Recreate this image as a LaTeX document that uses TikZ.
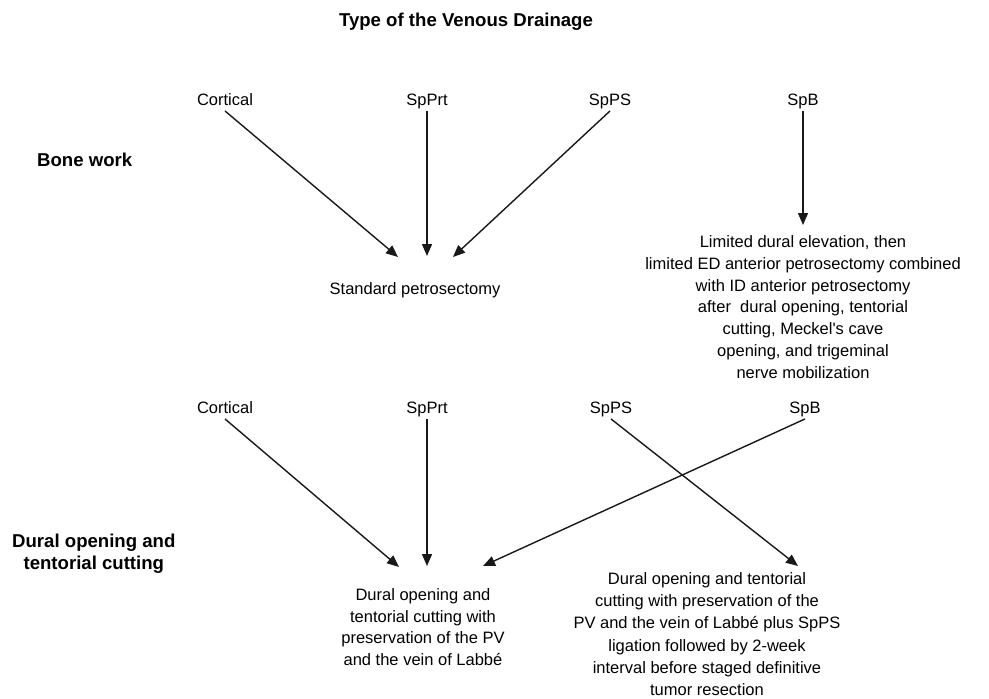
\documentclass[tikz,border=0pt]{standalone}
\usepackage{fontspec}
\setmainfont{Liberation Sans}
\usepackage{tikz}
\usetikzlibrary{arrows.meta}

\begin{document}
\begin{tikzpicture}[
    x=1pt, y=-1pt,
    lbl/.style={font=\fontsize{16.5}{21.7}\selectfont, text height=12pt, text depth=3.5pt, inner sep=2pt},
    txt/.style={font=\fontsize{16.5}{21.7}\selectfont, align=center, inner sep=0pt},
    head/.style={font=\fontsize{18.6}{22}\selectfont\bfseries, align=center, anchor=west, inner sep=0pt},
    arrow/.style={-{Triangle[length=12pt,width=10pt]}, line width=1.4pt, color=black!90}
]
    \useasboundingbox (0,0) rectangle (989,699);

    % Title
    \node[font=\fontsize{18.6}{22}\selectfont\bfseries, inner sep=0pt] (title) at (466,22) {Type of the Venous Drainage};

    % Row headers
    \node[head] (bone) at (37,160) {Bone work};
    \node[head] (dural) at (12,554) {Dural opening and\\tentorial cutting};

    % Top row - drainage types
    \node[lbl] (cort1) at (225,101) {Cortical};
    \node[lbl] (sppr1) at (427,101) {SpPrt};
    \node[lbl] (spps1) at (610,101) {SpPS};
    \node[lbl] (spb1) at (803,101) {SpB};

    % Top row - bone work results
    \node[txt] (std) at (415,290) {Standard petrosectomy};
    \node[txt] (lim) at (803,307) {Limited dural elevation, then\\limited ED anterior petrosectomy combined\\with ID anterior petrosectomy\\after\ \ dural opening, tentorial\\cutting, Meckel\textquotesingle s cave\\opening, and trigeminal\\nerve mobilization};

    % Bottom row - drainage types
    \node[lbl] (cort2) at (225,409) {Cortical};
    \node[lbl] (sppr2) at (427,409) {SpPrt};
    \node[lbl] (spps2) at (611,409) {SpPS};
    \node[lbl] (spb2) at (805,409) {SpB};

    % Bottom row - dural opening results
    \node[txt] (pres) at (423,627) {Dural opening and\\tentorial cutting with\\preservation of the PV\\and the vein of Labb\'e};
    \node[txt, font=\fontsize{16.5}{22.2}\selectfont] (stag) at (707,634) {Dural opening and tentorial\\cutting with preservation of the\\PV and the vein of Labb\'e plus SpPS\\ligation followed by 2-week\\interval before staged definitive\\tumor resection};

    % Arrow tips
    \coordinate (ta1) at (398,257);
    \coordinate (ta2) at (427,256);
    \coordinate (ta3) at (453,257);
    \coordinate (ta4) at (803,225);
    \coordinate (tb1) at (399,567);
    \coordinate (tb2) at (427,566);
    \coordinate (tb3) at (483,566);
    \coordinate (tb4) at (798,566);

    % Arrows
    \draw[arrow] (cort1.south) -- (ta1);
    \draw[arrow] (sppr1.south) -- (ta2);
    \draw[arrow] (spps1.south) -- (ta3);
    \draw[arrow] (spb1.south) -- (ta4);
    \draw[arrow] (cort2.south) -- (tb1);
    \draw[arrow] (sppr2.south) -- (tb2);
    \draw[arrow] (spb2.south) -- (tb3);
    \draw[arrow] (spps2.south) -- (tb4);
\end{tikzpicture}
\end{document}
